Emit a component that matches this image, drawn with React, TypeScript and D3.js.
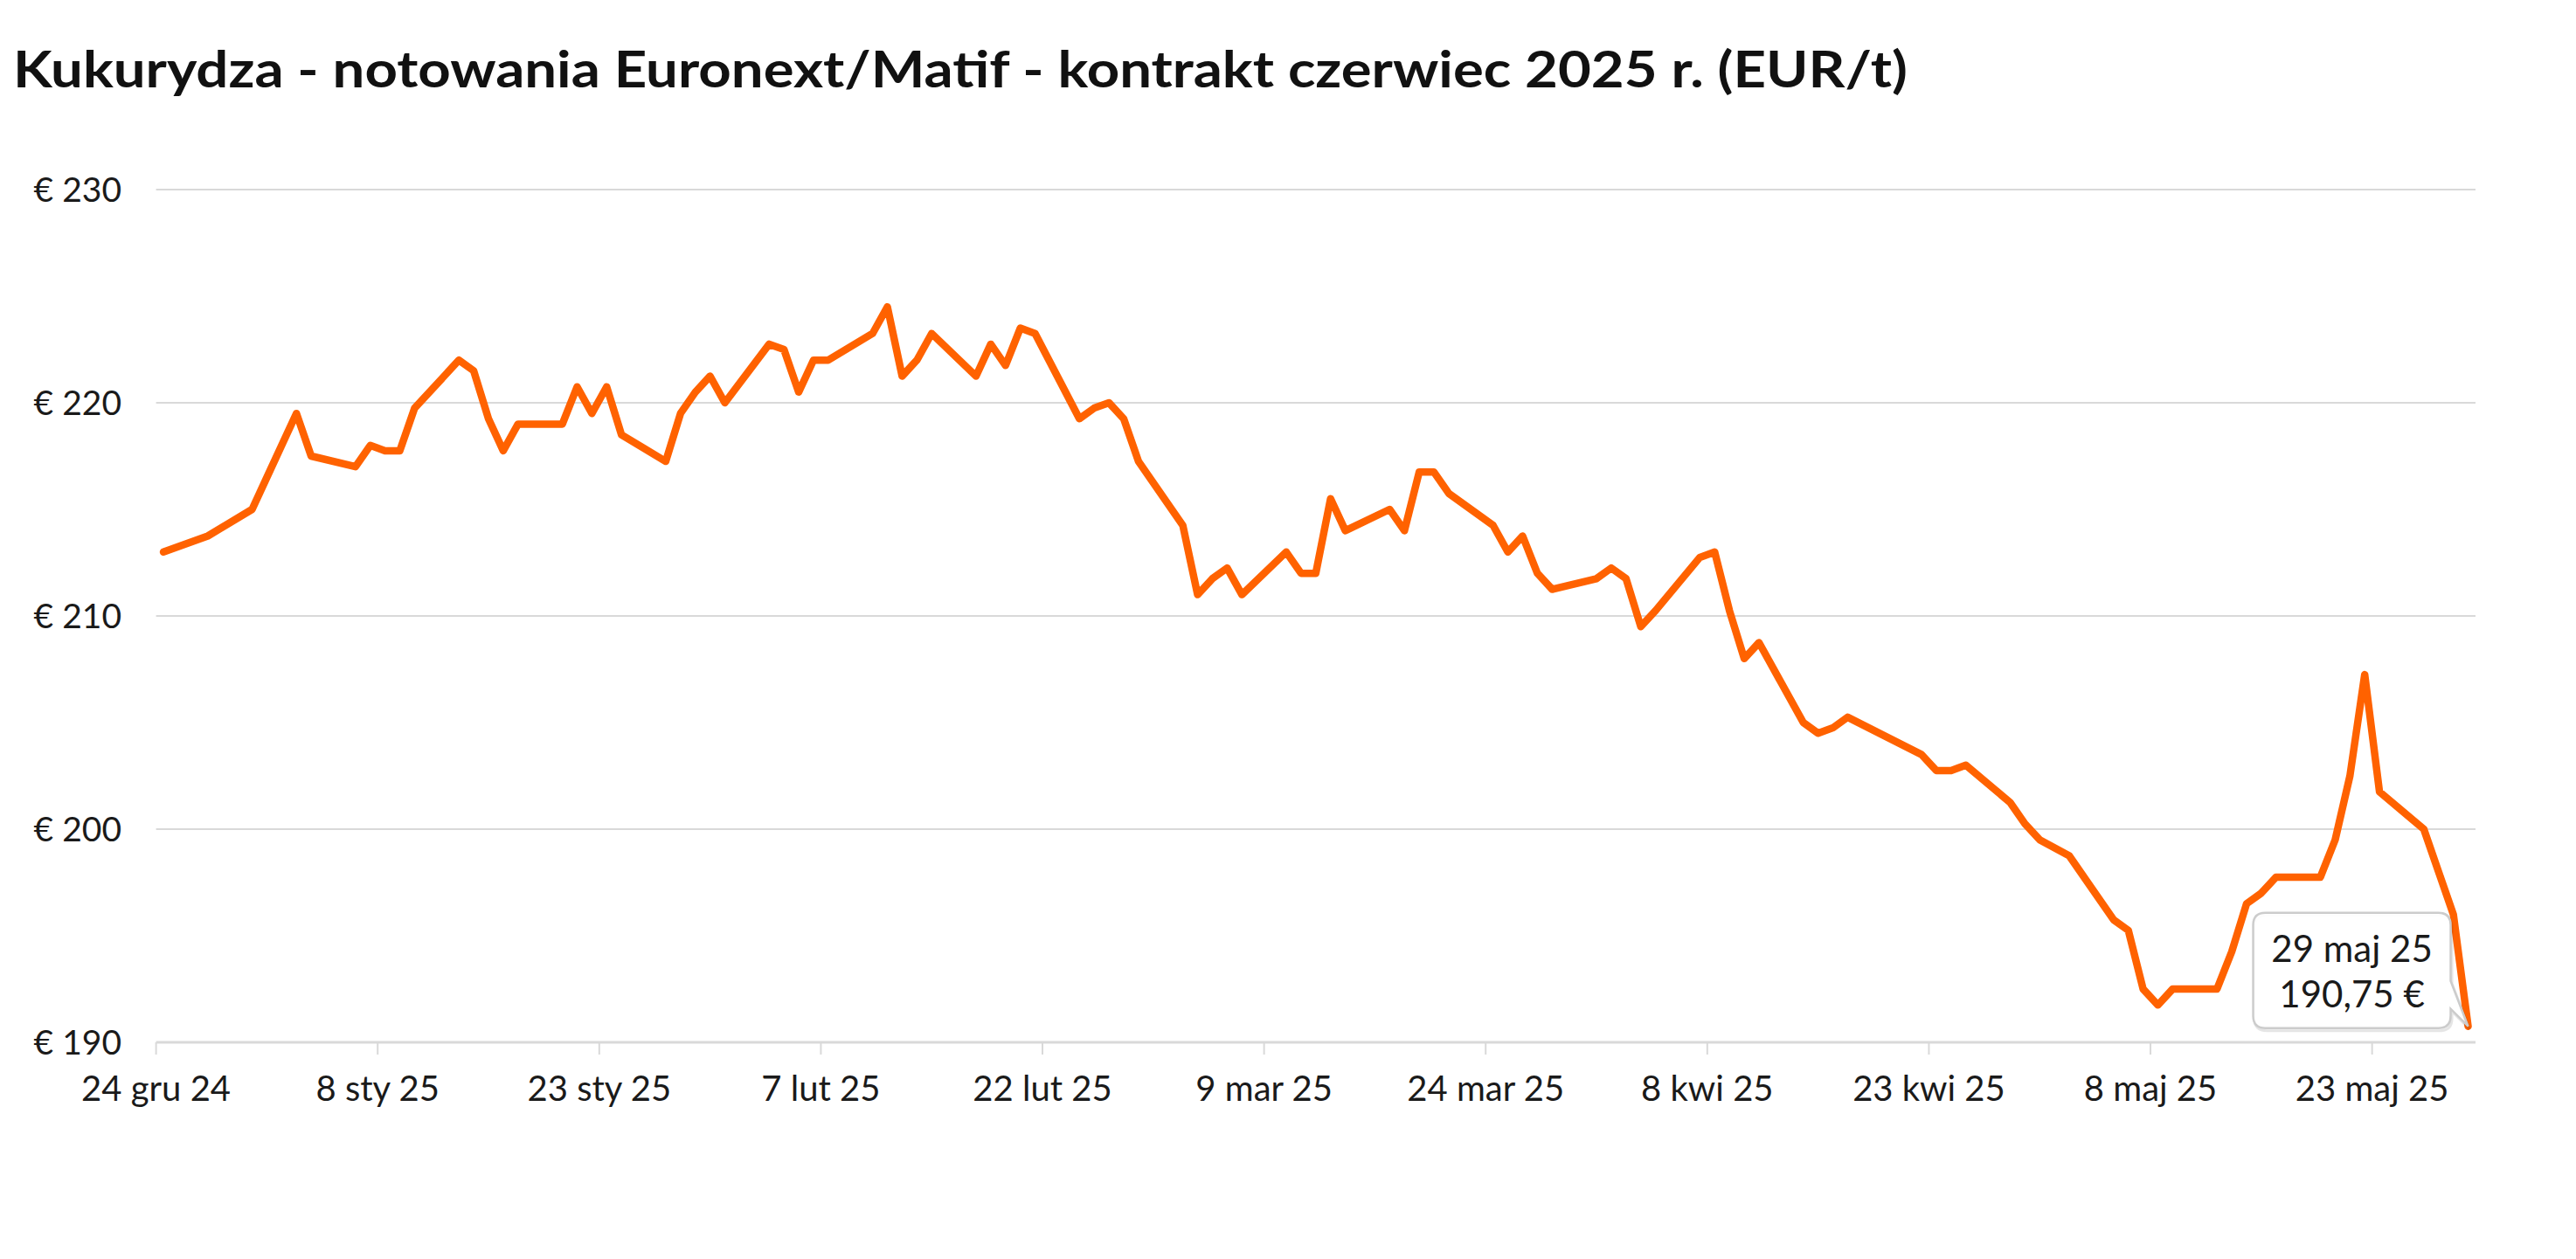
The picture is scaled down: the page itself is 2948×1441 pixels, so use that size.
import React from 'react';
import * as d3 from 'd3';

const TITLE = 'Kukurydza - notowania Euronext/Matif - kontrakt czerwiec 2025 r. (EUR/t)';

const dates: string[] = [
  '2024-12-24', '2024-12-27', '2024-12-30', '2024-12-31',
  '2025-01-02', '2025-01-03', '2025-01-06', '2025-01-07', '2025-01-08', '2025-01-09', '2025-01-10',
  '2025-01-13', '2025-01-14', '2025-01-15', '2025-01-16', '2025-01-17',
  '2025-01-20', '2025-01-21', '2025-01-22', '2025-01-23', '2025-01-24',
  '2025-01-27', '2025-01-28', '2025-01-29', '2025-01-30', '2025-01-31',
  '2025-02-03', '2025-02-04', '2025-02-05', '2025-02-06', '2025-02-07',
  '2025-02-10', '2025-02-11', '2025-02-12', '2025-02-13', '2025-02-14',
  '2025-02-17', '2025-02-18', '2025-02-19', '2025-02-20', '2025-02-21',
  '2025-02-24', '2025-02-25', '2025-02-26', '2025-02-27', '2025-02-28',
  '2025-03-03', '2025-03-04', '2025-03-05', '2025-03-06', '2025-03-07',
  '2025-03-10', '2025-03-11', '2025-03-12', '2025-03-13', '2025-03-14',
  '2025-03-17', '2025-03-18', '2025-03-19', '2025-03-20', '2025-03-21',
  '2025-03-24', '2025-03-25', '2025-03-26', '2025-03-27', '2025-03-28',
  '2025-03-31', '2025-04-01', '2025-04-02', '2025-04-03', '2025-04-04',
  '2025-04-07', '2025-04-08', '2025-04-09', '2025-04-10', '2025-04-11',
  '2025-04-14', '2025-04-15', '2025-04-16', '2025-04-17',
  '2025-04-22', '2025-04-23', '2025-04-24', '2025-04-25',
  '2025-04-28', '2025-04-29', '2025-04-30', '2025-05-02',
  '2025-05-05', '2025-05-06', '2025-05-07', '2025-05-08', '2025-05-09',
  '2025-05-12', '2025-05-13', '2025-05-14', '2025-05-15', '2025-05-16',
  '2025-05-19', '2025-05-20', '2025-05-21', '2025-05-22', '2025-05-23',
  '2025-05-26', '2025-05-27', '2025-05-28', '2025-05-29',
];

const prices: number[] = [
  213.0, 213.75, 215.0, 216.5,
  219.5, 217.5, 217.0, 218.0, 217.75, 217.75, 219.75,
  222.0, 221.5, 219.25, 217.75, 219.0,
  219.0, 220.75, 219.5, 220.75, 218.5,
  217.25, 219.5, 220.5, 221.25, 220.0,
  222.75, 222.5, 220.5, 222.0, 222.0,
  223.25, 224.5, 221.25, 222.0, 223.25,
  221.25, 222.75, 221.75, 223.5, 223.25,
  219.25, 219.75, 220.0, 219.25, 217.25,
  214.25, 211.0, 211.75, 212.25, 211.0,
  213.0, 212.0, 212.0, 215.5, 214.0,
  215.0, 214.0, 216.75, 216.75, 215.75,
  214.25, 213.0, 213.75, 212.0, 211.25,
  211.75, 212.25, 211.75, 209.5, 210.25,
  212.75, 213.0, 210.25, 208.0, 208.75,
  205.0, 204.5, 204.75, 205.25,
  203.5, 202.75, 202.75, 203.0,
  201.25, 200.25, 199.5, 198.75,
  195.75, 195.25, 192.5, 191.75, 192.5,
  192.5, 194.25, 196.5, 197.0, 197.75,
  197.75, 199.5, 202.5, 207.25, 201.75,
  200.0, 198.0, 196.0, 190.75,
];

const yTicks: number[] = [190, 200, 210, 220, 230];
const xTickDates: string[] = [
  '2024-12-24', '2025-01-08', '2025-01-23', '2025-02-07', '2025-02-22', '2025-03-09',
  '2025-03-24', '2025-04-08', '2025-04-23', '2025-05-08', '2025-05-23',
];
const xDomain: string[] = ['2024-12-24', '2025-05-30'];
const yDomain: number[] = [190, 230];

const plLocale = d3.timeFormatLocale({
  dateTime: '%A, %e %B %Y, %X',
  date: '%d.%m.%Y',
  time: '%H:%M:%S',
  periods: ['AM', 'PM'],
  days: ['niedziela', 'poniedziałek', 'wtorek', 'środa', 'czwartek', 'piątek', 'sobota'],
  shortDays: ['niedz.', 'pon.', 'wt.', 'śr.', 'czw.', 'pt.', 'sob.'],
  months: ['styczeń', 'luty', 'marzec', 'kwiecień', 'maj', 'czerwiec', 'lipiec', 'sierpień', 'wrzesień', 'październik', 'listopad', 'grudzień'],
  shortMonths: ['sty', 'lut', 'mar', 'kwi', 'maj', 'cze', 'lip', 'sie', 'wrz', 'paź', 'lis', 'gru'],
});
const fmtDate = plLocale.format('%-d %b %y');
const numLocale = d3.formatLocale({ decimal: ',', thousands: ' ', grouping: [3], currency: ['', ' €'] });
const fmtPrice = numLocale.format('$.2f');

const parse = d3.utcParse('%Y-%m-%d');
const toLocal = (s: string) => {
  const u = parse(s) as Date;
  return new Date(u.getUTCFullYear(), u.getUTCMonth(), u.getUTCDate());
};

const W = 2948;
const H = 1441;
const FONT = 'Lato, "Open Sans", "Noto Sans", sans-serif';

export default function App() {
  const x = d3.scaleTime().domain(xDomain.map(toLocal)).range([178.6, 2833]);
  const y = d3.scaleLinear().domain(yDomain).range([1193, 217]);
  const HALF_DAY = 12 * 3600 * 1000;

  const data = dates.map((d, i) => ({ date: toLocal(d), value: prices[i] }));
  const line = d3
    .line<{ date: Date; value: number }>()
    .x((d) => x(new Date(d.date.getTime() + HALF_DAY)))
    .y((d) => y(d.value));

  const last = data[data.length - 1];
  const px = x(new Date(last.date.getTime() + HALF_DAY));
  const py = y(last.value);

  const bx1 = px - 20;
  const by1 = py + 2;
  const bx0 = bx1 - 226;
  const by0 = by1 - 132;
  const r = 14;
  const tailTop = by1 - 54;
  const tailBot = by1 - 22;
  const tipPath = [
    `M${bx0 + r},${by0}`,
    `L${bx1 - r},${by0}`,
    `Q${bx1},${by0} ${bx1},${by0 + r}`,
    `L${bx1},${tailTop}`,
    `L${px},${py}`,
    `L${bx1},${tailBot}`,
    `L${bx1},${by1 - r}`,
    `Q${bx1},${by1} ${bx1 - r},${by1}`,
    `L${bx0 + r},${by1}`,
    `Q${bx0},${by1} ${bx0},${by1 - r}`,
    `L${bx0},${by0 + r}`,
    `Q${bx0},${by0} ${bx0 + r},${by0}`,
    'Z',
  ].join(' ');
  const bcx = (bx0 + bx1) / 2;

  const [x0, x1] = x.range();

  return (
    <svg width={W} height={H} style={{ position: 'absolute', left: 0, top: 0, background: '#fff' }} fontFamily={FONT}>
      <rect x={0} y={0} width={W} height={H} fill="#fff" />
      <text x={15} y={100} fontSize={57} fontWeight={700} fill="#111" textLength={2168} lengthAdjust="spacingAndGlyphs">
        {TITLE}
      </text>

      {yTicks.map((t) => (
        <g key={t}>
          {t !== yDomain[0] && (
            <line x1={x0} x2={x1} y1={y(t)} y2={y(t)} stroke="#d9d9d9" strokeWidth={2} />
          )}
          <text x={139} y={y(t)} dy="0.36em" textAnchor="end" fontSize={39} fill="#1a1a1a">
            {`€ ${t}`}
          </text>
        </g>
      ))}

      <line x1={x0} x2={x1} y1={y(yDomain[0])} y2={y(yDomain[0])} stroke="#d9d9d9" strokeWidth={3} />
      {xTickDates.map((s) => {
        const d = toLocal(s);
        const tx = x(d);
        return (
          <g key={s}>
            <line x1={tx} x2={tx} y1={y(yDomain[0])} y2={y(yDomain[0]) + 14} stroke="#d9d9d9" strokeWidth={2} />
            <text x={tx} y={1260} textAnchor="middle" fontSize={40} fill="#1a1a1a">
              {fmtDate(d)}
            </text>
          </g>
        );
      })}

      <path d={line(data) || ''} fill="none" stroke="#FF6200" strokeWidth={8.5} strokeLinejoin="round" strokeLinecap="round" />

      <path d={tipPath} transform="translate(1.5,3)" fill="none" stroke="rgba(0,0,0,0.10)" strokeWidth={3} />
      <path d={tipPath} fill="rgba(255,255,255,0.92)" stroke="#cccccc" strokeWidth={2.5} />
      <text x={bcx} y={by0 + 56} textAnchor="middle" fontSize={42} fill="#1a1a1a">
        {fmtDate(last.date)}
      </text>
      <text x={bcx} y={by0 + 108} textAnchor="middle" fontSize={42} fill="#1a1a1a">
        {fmtPrice(last.value)}
      </text>
    </svg>
  );
}
